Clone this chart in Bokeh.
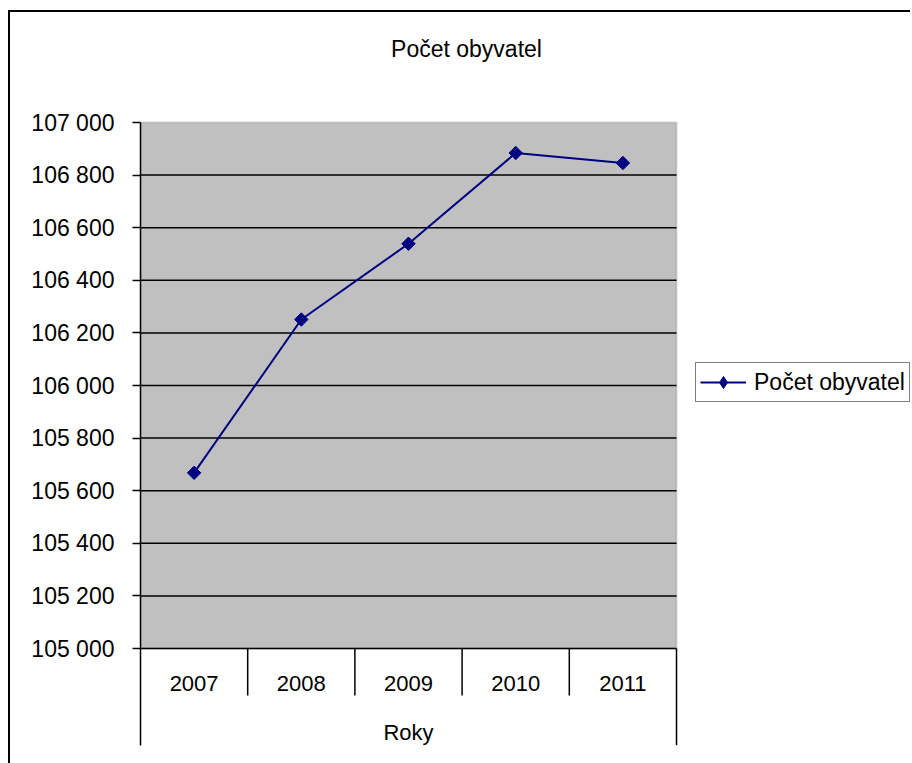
import numpy as np
from bokeh.plotting import figure
from bokeh.models import (Range1d, FixedTicker, BoxAnnotation, Label, Legend, LegendItem,
                          ColumnDataSource)
from bokeh.core.properties import value
from bokeh.embed import file_html
from bokeh.resources import INLINE

years = ["2007", "2008", "2009", "2010", "2011"]
population = [105668, 106251, 106539, 106884, 106846]
y_ticks = [105000, 105200, 105400, 105600, 105800, 106000, 106200, 106400, 106600, 106800, 107000]
tick_labels = {t: f"{t:,}".replace(",", " ") for t in y_ticks}
title_text = "Počet obyvatel"
series_name = "Počet obyvatel"
axis_title = "Roky"

FONT = "Liberation Sans"
FS = "23px"

n = len(years)
xs = [i + 0.5 for i in range(n)]

# pixel geometry of the frame (which also holds the category labels, title and legend)
px_per_unit = 526 / (y_ticks[-1] - y_ticks[0])
px_per_cat = 536 / n
y_bottom = y_ticks[0] - 97 / px_per_unit
y_top = y_ticks[-1] + 110 / px_per_unit
y_label = y_ticks[0] - 35 / px_per_unit
y_sep = y_ticks[0] - 47 / px_per_unit
y_axis_title = y_ticks[0] - 84 / px_per_unit
x_end = 770 / px_per_cat

p = figure(frame_width=770, frame_height=733, output_backend="svg", toolbar_location=None,
           x_range=Range1d(0, x_end), y_range=Range1d(y_bottom, y_top),
           min_border_left=130, min_border_right=0, min_border_top=0, min_border_bottom=18,
           background_fill_color="white", border_fill_color="white")
p.styles = {"margin-left": "8px", "margin-top": "10px",
            "border-left": "2px solid black", "border-top": "2px solid black"}
p.outline_line_color = None

# gray plot area
p.add_layout(BoxAnnotation(bottom=y_ticks[0], top=y_ticks[-1], left=0, right=n,
                           fill_color="#C0C0C0", fill_alpha=1.0,
                           line_color="#808080", line_width=2, level="image"))

p.xaxis.visible = False
p.xgrid.visible = False
p.ygrid.visible = False

# horizontal grid lines across the plot area only
grid_y = y_ticks[:-1]
p.segment(x0=[0] * len(grid_y), y0=grid_y, x1=[n] * len(grid_y), y1=grid_y,
          line_color="black", line_width=1.5, level="underlay")

yax = p.yaxis[0]
yax.ticker = FixedTicker(ticks=y_ticks)
yax.bounds = (y_bottom, y_ticks[-1])
yax.major_label_overrides = tick_labels
yax.major_label_text_font = FONT
yax.major_label_text_font_size = "23px"
yax.major_label_text_color = "black"
yax.major_tick_out = 8
yax.major_tick_in = 0
yax.minor_tick_out = 0
yax.minor_tick_in = 0
yax.axis_line_color = "black"
yax.axis_line_width = 1.5
yax.major_tick_line_width = 1.5
yax.major_label_standoff = 18

# category separators
sep_x = list(range(1, n + 1))
p.segment(x0=sep_x, y0=[y_ticks[0]] * n,
          x1=sep_x, y1=[y_sep] * (n - 1) + [y_bottom],
          line_color="black", line_width=1.5)

# category labels
p.text(x=xs, y=[y_label] * n, text=years, text_align="center", text_baseline="middle",
       text_font=value(FONT), text_font_size="22px", text_color="black")
p.text(x=[n / 2], y=[y_axis_title], text=[axis_title], text_align="center",
       text_baseline="middle", text_font=value(FONT), text_font_size="22px", text_color="black")

src = ColumnDataSource(dict(x=xs, y=population))
ln = p.line("x", "y", source=src, line_color="#000080", line_width=2)
mk = p.scatter("x", "y", source=src, marker="square", angle=np.pi / 4, size=9.5,
               fill_color="#000080", line_color="#000080")
# legend-only key glyph (a single undrawn NaN point): a diamond like the reference legend
leg_src = ColumnDataSource(dict(x=[np.nan], y=[np.nan]))
mk_leg = p.scatter("x", "y", source=leg_src, marker="diamond", size=13,
                   fill_color="#000080", line_color="#000080")

legend = Legend(items=[LegendItem(label=series_name, renderers=[ln, mk_leg])],
                location=(555, 343), orientation="vertical",
                label_text_font=FONT, label_text_font_size=FS, label_text_color="black",
                glyph_width=46, glyph_height=30, label_standoff=8,
                padding=4, margin=0, spacing=0,
                border_line_color="black", border_line_width=1.5,
                background_fill_color="white", background_fill_alpha=1.0)
p.add_layout(legend)

p.add_layout(Label(x=326, y=697, x_units="screen", y_units="screen", text=title_text,
                   text_align="center", text_baseline="middle",
                   text_font=FONT, text_font_size=FS, text_color="black"))

open("out.html", "w").write(file_html(p, INLINE))
